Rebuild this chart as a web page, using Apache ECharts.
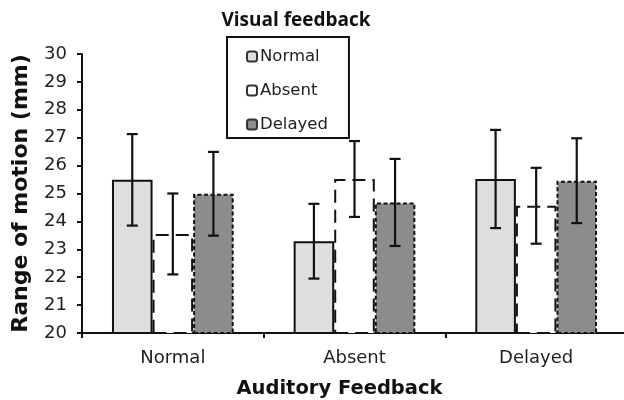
<!DOCTYPE html>
<html>
<head>
<meta charset="utf-8">
<script src="https://cdn.jsdelivr.net/npm/echarts@6/dist/echarts.min.js"></script>
<style>html,body{margin:0;padding:0;background:#fff}#chart{width:624px;height:400px}</style>
</head>
<body>
<div id="chart"></div>
<script>
var categories = ['Normal', 'Absent', 'Delayed'];
var seriesNames = ['Normal', 'Absent', 'Delayed'];
var normalVals = [25.49, 23.29, 25.52];
var normalErr = [1.64, 1.34, 1.76];
var absentVals = [23.55, 25.52, 24.56];
var absentErr = [1.45, 1.36, 1.36];
var delayedVals = [24.99, 24.68, 25.46];
var delayedErr = [1.50, 1.56, 1.52];
var yTicks = [20, 21, 22, 23, 24, 25, 26, 27, 28, 29, 30];

var chart = echarts.init(document.getElementById('chart'));
var CAT_GAP = 0.33;
var allVals = [normalVals, absentVals, delayedVals];
var allErr = [normalErr, absentErr, delayedErr];

function errSeries(k) {
  var data = allVals[k].map(function (v, i) { return [i, v - allErr[k][i], v + allErr[k][i]]; });
  return {
    type: 'custom',
    name: seriesNames[k] + ' error',
    z: 10,
    silent: true,
    data: data,
    encode: { x: 0, y: [1, 2] },
    renderItem: function (params, api) {
      var band = api.size([1, 0])[0];
      var bw = band * (1 - CAT_GAP) / 3;
      var lo = api.coord([api.value(0), api.value(1)]);
      var hi = api.coord([api.value(0), api.value(2)]);
      var x = lo[0] + (k - 1) * bw;
      var cap = 5.5;
      var st = { stroke: '#111', lineWidth: 2.2 };
      return {
        type: 'group',
        children: [
          { type: 'line', shape: { x1: x, y1: lo[1], x2: x, y2: hi[1] }, style: st },
          { type: 'line', shape: { x1: x - cap, y1: lo[1], x2: x + cap, y2: lo[1] }, style: st },
          { type: 'line', shape: { x1: x - cap, y1: hi[1], x2: x + cap, y2: hi[1] }, style: st }
        ]
      };
    }
  };
}

var fontTick = 'DejaVu Sans';
var option = {
  animation: false,
  backgroundColor: '#fff',
  title: {
    text: 'Visual feedback',
    left: 291, top: 6, textAlign: 'center',
    textStyle: { fontFamily: 'Open Sans', fontWeight: 'bold', fontSize: 19, color: '#111' }
  },
  legend: {
    orient: 'vertical',
    left: 227, top: 37,
    padding: [11, 21, 5, 19],
    itemGap: 17,
    itemWidth: 10, itemHeight: 10,
    borderColor: '#111', borderWidth: 2,
    data: seriesNames,
    itemStyle: { borderType: 'solid', borderWidth: 2, borderColor: '#333' },
    textStyle: { fontFamily: fontTick, fontSize: 16.5, color: '#222', padding: [0, 0, 0, -2] }
  },
  grid: { left: 82, right: -3, top: 54, bottom: 67, outerBoundsMode: 'none', containLabel: false },
  xAxis: {
    type: 'category',
    data: categories,
    name: 'Auditory Feedback',
    nameLocation: 'middle',
    nameGap: 46,
    nameTextStyle: { fontFamily: fontTick, fontWeight: 'bold', fontSize: 19.5, color: '#111', padding: [0, 30, 0, 0] },
    axisLine: { lineStyle: { color: '#111', width: 2 } },
    axisTick: { show: true, length: 5, lineStyle: { color: '#111', width: 2 } },
    axisLabel: { margin: 16, fontFamily: fontTick, fontSize: 18, color: '#222' }
  },
  yAxis: {
    type: 'value',
    min: yTicks[0], max: yTicks[yTicks.length - 1], interval: 1,
    name: 'Range of motion (mm)',
    nameLocation: 'middle',
    nameGap: 50,
    nameTextStyle: { fontFamily: fontTick, fontWeight: 'bold', fontSize: 22, color: '#111' },
    axisLine: { show: true, lineStyle: { color: '#111', width: 2 } },
    axisTick: { show: true, length: 5, lineStyle: { color: '#111', width: 2 } },
    splitLine: { show: false },
    axisLabel: { margin: 15, fontFamily: fontTick, fontSize: 18, color: '#222' }
  },
  series: [
    {
      type: 'bar', name: seriesNames[0], data: normalVals,
      barGap: '0%', barCategoryGap: '33%',
      itemStyle: { color: '#dedede', borderColor: '#111', borderWidth: 2 }
    },
    {
      type: 'bar', name: seriesNames[1], data: absentVals,
      itemStyle: { color: '#ffffff', borderColor: '#111', borderWidth: 2, borderType: [13, 7] }
    },
    {
      type: 'bar', name: seriesNames[2], data: delayedVals,
      itemStyle: { color: '#8c8c8c', borderColor: '#111', borderWidth: 2, borderType: [4, 2.5] }
    },
    errSeries(0), errSeries(1), errSeries(2)
  ]
};
chart.setOption(option);
</script>
</body>
</html>
